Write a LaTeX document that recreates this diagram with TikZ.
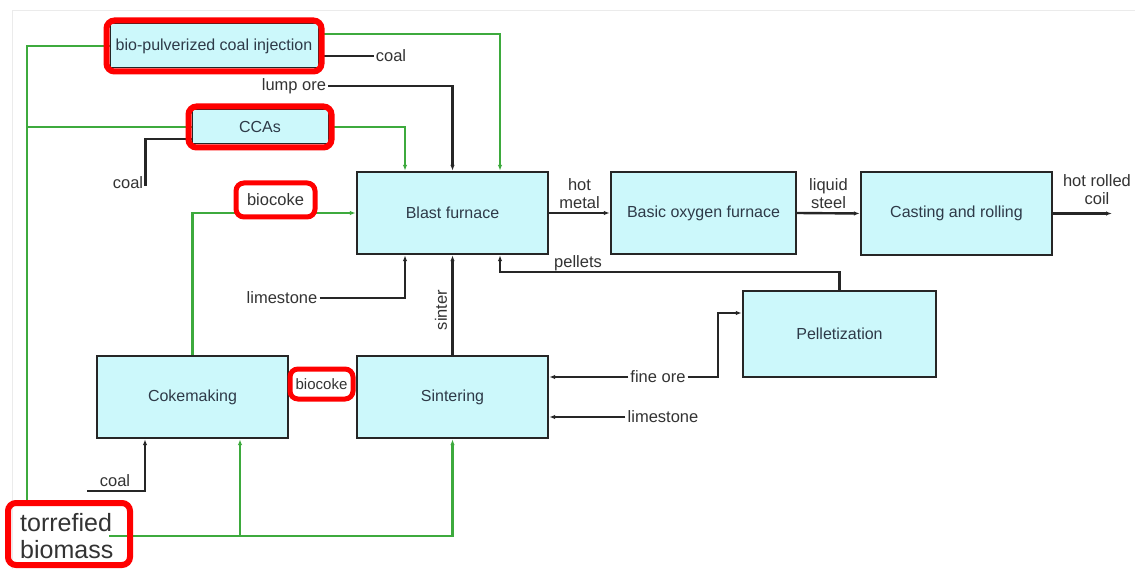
\documentclass[tikz,border=0pt]{standalone}
\usepackage{fontspec}
\setmainfont{Liberation Sans}
\usetikzlibrary{arrows.meta,fit}
\definecolor{boxfill}{HTML}{CCF8FB}
\definecolor{boxtext}{HTML}{2E3A48}
\definecolor{labtext}{HTML}{333333}
\definecolor{gflow}{HTML}{3DAA3D}
\definecolor{hilite}{HTML}{FF0000}
\tikzset{
  unit/.style={draw=black!85, line width=2.4pt, fill=boxfill, text=boxtext,
    font=\fontsize{16}{18}\selectfont, inner sep=0pt},
  lab/.style={text=labtext, font=\fontsize{16.5}{18}\selectfont, inner sep=2pt},
  flow/.style={draw=black!85, line width=2.4pt},
  arr/.style={flow, -{Latex[length=6pt,width=4.5pt]}},
  gline/.style={draw=gflow, line width=2.4pt},
  garr/.style={gline, -{Latex[length=6pt,width=4.5pt]}},
  hl/.style={draw=hilite, line width=6pt, rounded corners=8pt},
  hllab/.style={hl, line width=5pt, fill=white, text=labtext, inner sep=0pt,
    font=\fontsize{16.5}{18}\selectfont}
}
\begin{document}
\begin{tikzpicture}[x=1pt,y=-1pt]
\useasboundingbox (0,0) rectangle (1135,569);
\fill[white] (0,0) rectangle (1135,569);
% faint page edge
\draw[black!8, line width=1pt] (12,569) -- (12,11) -- (1135,11);

% process units
\node[unit, minimum width=191pt, minimum height=82pt] (bf)   at (452.5,213) {Blast furnace};
\node[unit, minimum width=185pt, minimum height=82pt] (bof)  at (703.5,213) {Basic oxygen furnace};
\node[unit, minimum width=191pt, minimum height=83pt] (cr)   at (956.5,213.5) {Casting and rolling};
\node[unit, minimum width=193pt, minimum height=86pt] (pel)  at (839.5,334) {Pelletization};
\node[unit, minimum width=191pt, minimum height=82pt] (coke) at (192.5,397) {Cokemaking};
\node[unit, minimum width=191pt, minimum height=82pt] (sint) at (452.5,397) {Sintering};
\node[unit, minimum width=208pt, minimum height=44pt, line width=1pt] (bpci) at (214,46) {bio-pulverized coal injection};
\node[unit, minimum width=136pt, minimum height=34pt, line width=1pt] (ccas) at (260,127) {CCAs};

% text labels
\node[lab] (coal1) at (391,56) {coal};
\node[lab] (lump)  at (294,86) {lump ore};
\node[lab] (coal2) at (128,183) {coal};
\node[lab] (ls1)   at (282,298) {limestone};
\node[lab, rotate=90] (sinter) at (441,310) {sinter};
\node[lab] (pellab) at (578,263) {pellets};
\node[lab] (fo)    at (658,377) {fine ore};
\node[lab] (ls2)   at (663,417) {limestone};
\node[lab] (coal3) at (115,481) {coal};
\node[lab, align=left, font=\fontsize{25}{27}\selectfont, inner sep=0pt, anchor=west] (tb) at (20,536) {torrefied\\biomass};

\coordinate (tl)  at (27,503);
\coordinate (tbe) at (109,536);
\coordinate (pc)  at (839.5,272);
\coordinate (fc)  at (718,377);
\coordinate (cl)  at (87,491);
\coordinate (out) at (1112,213.5);

% biomass routes
\draw[gline] (bpci.west) -| (tl);
\draw[gline] (ccas.west) -- (ccas.west -| tl);
\draw[garr] ([yshift=12pt]bpci.east) -| ([xshift=47.5pt]bf.north);
\draw[garr] (ccas.east) -| ([xshift=-47.5pt]bf.north);
\draw[garr] (coke.north) |- (bf.west);
\draw[garr] (tbe) -| (sint.south);
\draw[garr] ([xshift=47.5pt]coke.south |- tbe) -- ([xshift=47.5pt]coke.south);

% conventional routes
\draw[flow] ([yshift=-10pt]bpci.east) -- (coal1.west);
\draw[arr] (lump.east) -| (bf.north);
\draw[flow] ([yshift=-12pt]ccas.west) -| ([yshift=-3pt]coal2.east);
\draw[arr] (bf.east) -- node[lab, above, align=center, yshift=1pt] (hm) {hot\\metal} (bof.west);
\draw[arr] (bof.east) -- node[lab, above, align=center, yshift=1pt] (lsl) {liquid\\steel} (cr.west);
\draw[arr] (cr.east) -- (out);
\node[lab, align=center] (hrc) at (1097,190) {hot rolled\\coil};
\draw[arr] (pel.north) -- (pc) -| ([xshift=47.5pt]bf.south);
\draw[arr] (ls1.east) -| ([xshift=-47.5pt]bf.south);
\draw[arr] (sint.north) -- (bf.south);
\draw[arr] (fo.west) -- (sint.east |- fo.west);
\draw[arr] (fo.east) -- (fc) |- ([yshift=21pt]pel.west);
\draw[arr] (ls2.west) -- (sint.east |- ls2.west);
\draw[arr] (cl) -| ([xshift=-47.5pt]coke.south);

% highlighted items
\node[hl, fit=(bpci), inner sep=3pt] (hbpci) {};
\node[hl, fit=(ccas), inner sep=3pt] (hccas) {};
\node[hllab, minimum width=79pt, minimum height=34pt] (bc1) at (275.5,200) {biocoke};
\node[hllab, minimum width=63pt, minimum height=30pt, font=\fontsize{15}{17}\selectfont] (bc2) at (321.5,384) {biocoke};
\draw[hl] (8,503) rectangle (130,565);
\end{tikzpicture}
\end{document}
